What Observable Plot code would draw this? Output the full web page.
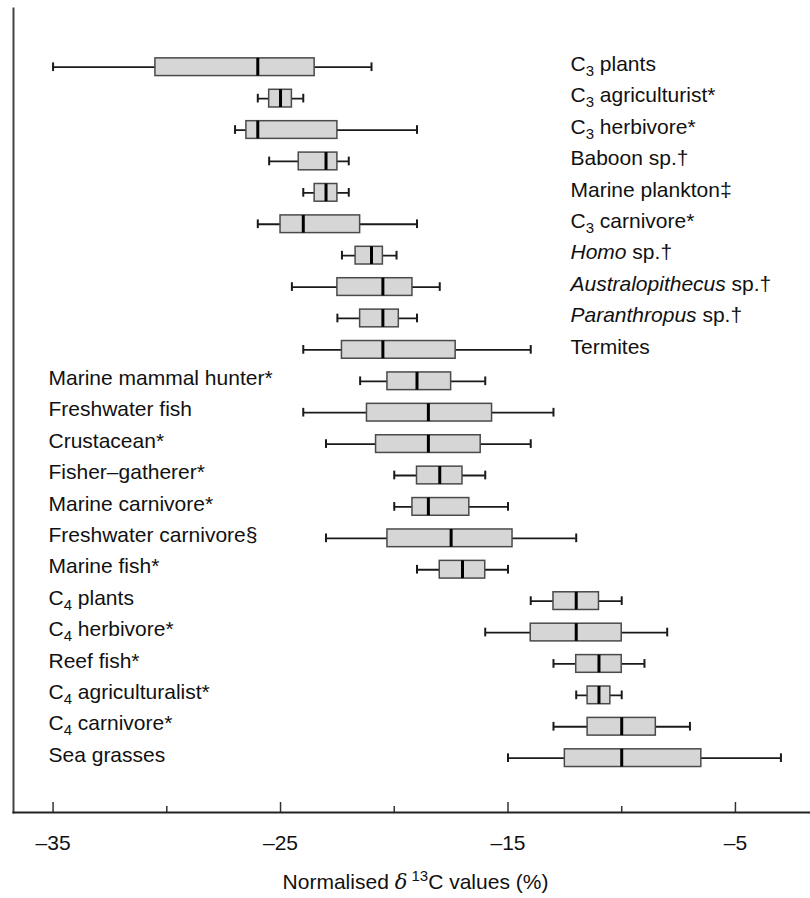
<!DOCTYPE html>
<html><head><meta charset="utf-8">
<script src="https://cdn.jsdelivr.net/npm/d3@7"></script>
<script src="https://cdn.jsdelivr.net/npm/@observablehq/plot@0.6"></script>
<style>body{margin:0;background:#fff} svg{display:block}</style>
</head><body><div id="chart"></div>
<script>
const groups = [
  "C3 plants", "C3 agriculturist*", "C3 herbivore*", "Baboon sp.†", "Marine plankton‡",
  "C3 carnivore*", "Homo sp.†", "Australopithecus sp.†", "Paranthropus sp.†", "Termites",
  "Marine mammal hunter*", "Freshwater fish", "Crustacean*", "Fisher–gatherer*", "Marine carnivore*",
  "Freshwater carnivore§", "Marine fish*", "C4 plants", "C4 herbivore*", "Reef fish*",
  "C4 agriculturalist*", "C4 carnivore*", "Sea grasses"
];
const whiskerLow  = [-35, -26, -27, -25.5, -24, -26, -22.3, -24.5, -22.5, -24, -21.5, -24, -23, -20, -20, -23, -19, -14, -16, -13, -12, -13, -15];
const quartile1   = [-30.5, -25.5, -26.5, -24.2, -23.5, -25, -21.7, -22.5, -21.5, -22.3, -20.3, -21.2, -20.8, -19, -19.2, -20.3, -18, -13, -14, -12, -11.5, -11.5, -12.5];
const medians     = [-26, -25, -26, -23, -23, -24, -21, -20.5, -20.5, -20.5, -19, -18.5, -18.5, -18, -18.5, -17.5, -17, -12, -12, -11, -11, -10, -10];
const quartile3   = [-23.5, -24.5, -22.5, -22.5, -22.5, -21.5, -20.5, -19.2, -19.8, -17.3, -17.5, -15.7, -16.2, -17, -16.7, -14.8, -16, -11, -10, -10, -10.5, -8.5, -6.5];
const whiskerHigh = [-21, -24, -19, -22, -22, -19, -19.9, -18, -19, -14, -16, -13, -14, -16, -15, -12, -15, -10, -8, -9, -10, -7, -3];
const rightLabelCount = 10;
const majorTicks = [-35, -25, -15, -5];
const minorTicks = [-30, -20, -10];
const xDomain = [-36.74, -1.70];

const rows = groups.map((g, i) => ({
  group: g, lo: whiskerLow[i], q1: quartile1[i], med: medians[i], q3: quartile3[i], hi: whiskerHigh[i],
  side: i < rightLabelCount ? "right" : "left"
}));

const ink = "#1a1a1a";
const chart = Plot.plot({
  width: 810, height: 898,
  marginLeft: 13, marginRight: 0, marginTop: 8, marginBottom: 86,
  style: {fontFamily: "'Liberation Sans', Arial, Helvetica, sans-serif", fontSize: "21px", background: "#fff", color: "#111"},
  x: {domain: xDomain, label: null},
  y: {domain: groups, paddingInner: 0.4365, paddingOuter: 1.518, align: 0.523, round: false, axis: null},
  marks: [
    Plot.ruleY(rows, {y: "group", x1: "lo", x2: "hi", stroke: ink, strokeWidth: 1.8}),
    Plot.tickX(rows, {x: "lo", y: "group", insetTop: 4.5, insetBottom: 4.5, stroke: ink, strokeWidth: 2}),
    Plot.tickX(rows, {x: "hi", y: "group", insetTop: 4.5, insetBottom: 4.5, stroke: ink, strokeWidth: 2}),
    Plot.barX(rows, {x1: "q1", x2: "q3", y: "group", fill: "#d6d6d6", stroke: "#4a4a4a", strokeWidth: 1.5}),
    Plot.tickX(rows, {x: "med", y: "group", stroke: "#000", strokeWidth: 3}),
    Plot.text(rows.filter(d => d.side === "right"), {y: "group", text: "group", frameAnchor: "left", textAnchor: "start", dx: 557, dy: -3, fill: "#111", fontSize: 21}),
    Plot.text(rows.filter(d => d.side === "left"), {y: "group", text: "group", frameAnchor: "left", textAnchor: "start", dx: 35, dy: -3, fill: "#111", fontSize: 21}),
    Plot.ruleX(majorTicks, {x: d => d, insetTop: 794, stroke: "#333", strokeWidth: 1.5}),
    Plot.ruleX(minorTicks, {x: d => d, insetTop: 798, stroke: "#333", strokeWidth: 1.5}),
    Plot.axisX({ticks: majorTicks, tickSize: 0, tickPadding: 23, tickFormat: d => "–" + Math.abs(d), fontSize: 21, fill: "#111", label: null}),
    Plot.frame({anchor: "left", stroke: "#444", strokeWidth: 2}),
    Plot.frame({anchor: "bottom", stroke: "#222", strokeWidth: 2})
  ]
});

// rich-text formatting of group labels (subscripts and italics)
const svg = d3.select(chart.tagName.toLowerCase() === "svg" ? chart : chart.querySelector("svg"));
svg.selectAll('g[aria-label="text"] text').each(function() {
  const el = d3.select(this);
  const s = this.textContent;
  let m;
  if ((m = s.match(/^C(\d)(.*)$/))) {
    el.text(null);
    el.append("tspan").text("C");
    el.append("tspan").attr("dy", "5").attr("font-size", "15px").text(m[1]);
    el.append("tspan").attr("dy", "-5").text(m[2]);
  } else if ((m = s.match(/^(Homo|Australopithecus|Paranthropus)(.*)$/))) {
    el.text(null);
    el.append("tspan").attr("font-style", "italic").text(m[1]);
    el.append("tspan").text(m[2]);
  }
});

// axis title with italic delta and superscript 13
const xs = chart.scale("x");
const cx = (xs.range[0] + xs.range[1]) / 2 + 4;
const title = svg.append("text")
  .attr("x", cx).attr("y", 889)
  .attr("text-anchor", "middle")
  .attr("font-size", 21).attr("fill", "#111");
title.append("tspan").text("Normalised ");
title.append("tspan").attr("font-style", "italic").attr("font-family", "'DejaVu Serif', serif").text("δ");
title.append("tspan").attr("font-size", "15px").attr("dy", "-8").text(" 13");
title.append("tspan").attr("dy", "8").text("C values (%)");

document.getElementById("chart").appendChild(chart);
</script>
</body></html>
